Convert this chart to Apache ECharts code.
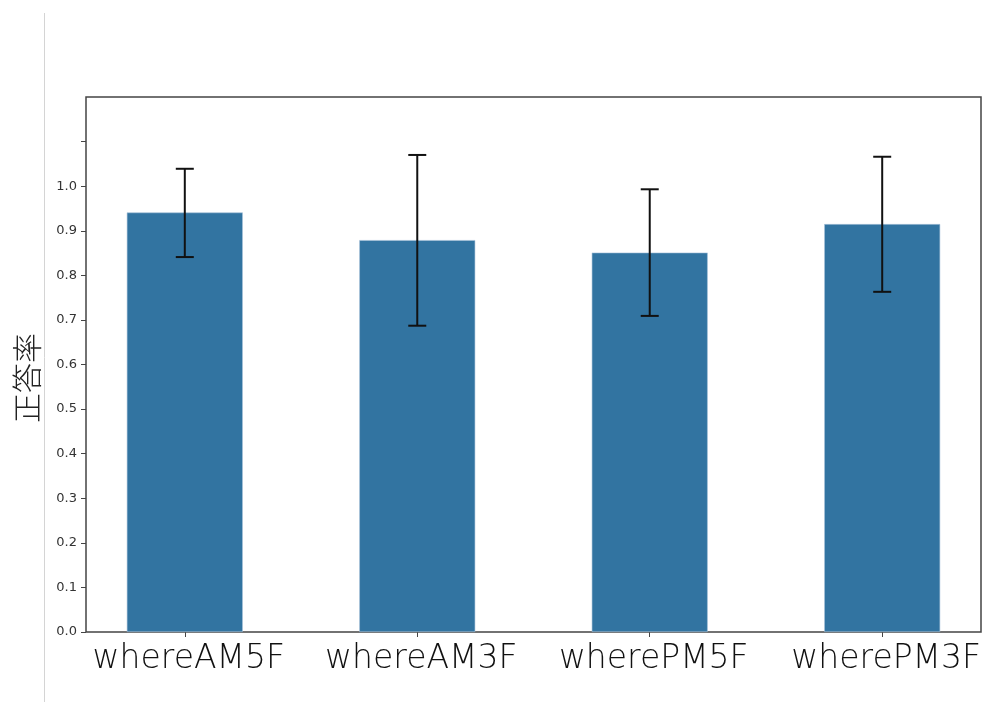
<!DOCTYPE html>
<html>
<head>
<meta charset="utf-8">
<script src="https://cdn.jsdelivr.net/npm/echarts@6/dist/echarts.min.js"></script>
<style>
  html, body { margin: 0; padding: 0; background: #fff; }
  #chart { width: 992px; height: 702px; }
</style>
</head>
<body>
<div id="chart"></div>
<script>
// bar chart: mean accuracy per condition with error bars
const categories = ['whereAM5F', 'whereAM3F', 'wherePM5F', 'wherePM3F'];
const means = [0.941, 0.879, 0.851, 0.915];
const errLow = [0.841, 0.687, 0.709, 0.763];
const errHigh = [1.039, 1.070, 0.993, 1.066];
const yTicks = [0, 0.1, 0.2, 0.3, 0.4, 0.5, 0.6, 0.7, 0.8, 0.9, 1.0, 1.1];
const yLabels = [0, 0.1, 0.2, 0.3, 0.4, 0.5, 0.6, 0.7, 0.8, 0.9, 1.0];
const yTitle = '正答率';

const chart = echarts.init(document.getElementById('chart'), null, { renderer: 'canvas' });

const idx = categories.map((_, i) => i);

chart.setOption({
  backgroundColor: '#fff',
  animation: false,
  grid: {
    left: 86, top: 97, right: 11, bottom: 70,
    outerBoundsMode: 'none',
    containLabel: false,
    show: true, borderColor: '#444', borderWidth: 1.5, backgroundColor: 'transparent'
  },
  xAxis: {
    type: 'value',
    // matplotlib-style margins around bars at 0..3 with width 0.5
    min: -0.425,
    max: 3.425,
    splitLine: { show: false },
    axisLine: { show: false, onZero: false },
    axisTick: { show: true, customValues: idx, length: 5, lineStyle: { color: '#444' } },
    axisLabel: {
      customValues: idx,
      formatter: (v) => categories[Math.round(v)] ?? '',
      fontFamily: 'DejaVu Sans',
      fontWeight: 200,
      fontSize: 33,
      color: '#111',
      margin: 11,
      padding: [0, 0, 0, 8]
    }
  },
  yAxis: {
    type: 'value',
    min: 0,
    max: 1.2,
    splitLine: { show: false },
    axisLine: { show: false, onZero: false },
    axisTick: { show: true, customValues: yTicks, length: 5, lineStyle: { color: '#444' } },
    axisLabel: {
      customValues: yLabels,
      formatter: (v) => v.toFixed(1),
      fontFamily: 'DejaVu Sans',
      fontSize: 13,
      color: '#333',
      margin: 9
    }
  },
  series: [
    {
      type: 'bar',
      data: means.map((v, i) => [i, v]),
      barWidth: 116,
      itemStyle: { color: '#3274a1', borderColor: '#a9c3da', borderWidth: 0.6 }
    },
    {
      type: 'custom',
      data: idx.map((i) => [i, errLow[i], errHigh[i]]),
      z: 10,
      renderItem: (params, api) => {
        const lo = api.coord([api.value(0), api.value(1)]);
        const hi = api.coord([api.value(0), api.value(2)]);
        const cap = 9;
        const style = { stroke: '#111', lineWidth: 2 };
        return {
          type: 'group',
          children: [
            { type: 'line', shape: { x1: hi[0], y1: hi[1], x2: lo[0], y2: lo[1] }, style },
            { type: 'line', shape: { x1: hi[0] - cap, y1: hi[1], x2: hi[0] + cap, y2: hi[1] }, style },
            { type: 'line', shape: { x1: lo[0] - cap, y1: lo[1], x2: lo[0] + cap, y2: lo[1] }, style }
          ]
        };
      }
    }
  ],
  graphic: [
    {
      type: 'line',
      shape: { x1: 44.5, y1: 13, x2: 44.5, y2: 702 },
      style: { stroke: '#d4d4d4', lineWidth: 1 }
    },
    {
      type: 'text',
      x: 27,
      y: 378,
      rotation: Math.PI / 2,
      style: {
        text: yTitle,
        fontFamily: 'Noto Sans CJK JP',
        fontWeight: 300,
        fontSize: 30,
        fill: '#222',
        align: 'center',
        verticalAlign: 'middle'
      }
    }
  ]
});
</script>
</body>
</html>
